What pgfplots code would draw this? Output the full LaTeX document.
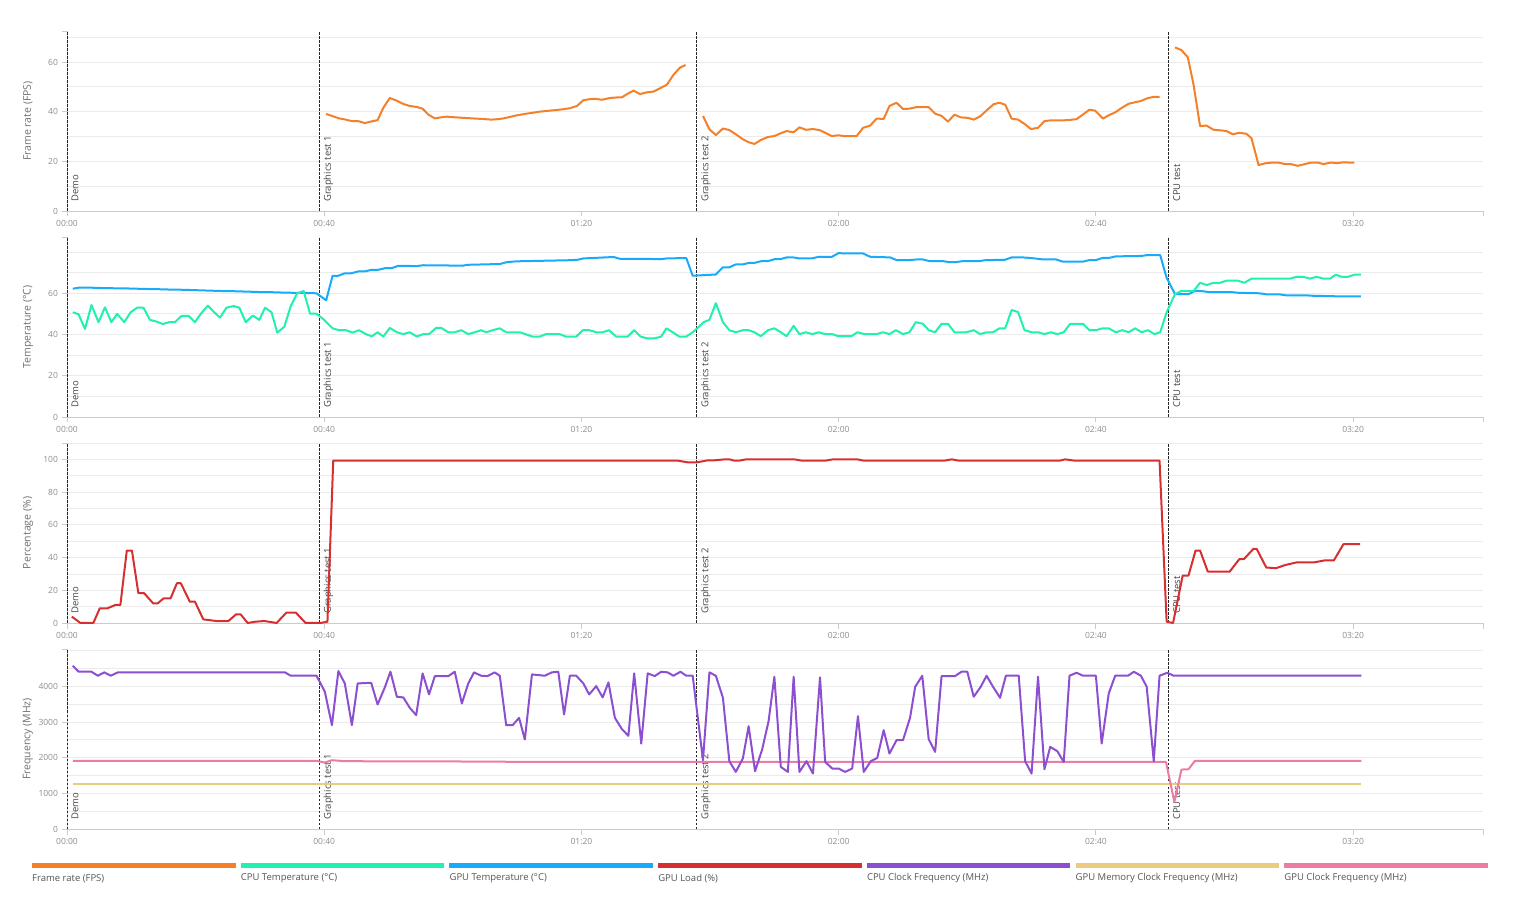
\documentclass[border=0pt]{standalone}
\usepackage{pgfplots}
\pgfplotsset{compat=1.18}
\usepackage{fontspec}
\setmainfont{Open Sans}
\usetikzlibrary{calc}
\definecolor{fpsC}{HTML}{F5802A}
\definecolor{cpuT}{HTML}{20F0B0}
\definecolor{gpuT}{HTML}{19AAFA}
\definecolor{loadC}{HTML}{D62F2F}
\definecolor{cpuClk}{HTML}{8C4FD0}
\definecolor{memClk}{HTML}{EBCB80}
\definecolor{gpuClk}{HTML}{EB7CA3}
\definecolor{axgray}{HTML}{CCCCCC}
\definecolor{gridgray}{HTML}{EBEBEB}
\definecolor{tickgray}{HTML}{8C8C8C}
\definecolor{labgray}{HTML}{707070}
\definecolor{seggray}{HTML}{444444}
\definecolor{leggray}{HTML}{555555}
\pgfplotsset{
  panel/.style={
    scale only axis, width=1416pt, height=180pt, anchor=south west,
    xmin=0, xmax=220.2, ymin=0, clip=false,
    axis x line*=bottom, axis y line*=left,
    axis line style={draw=axgray, line width=0.8pt, -},
    tick align=outside, major tick length=5.5pt, minor tick length=0pt,
    every tick/.style={draw=axgray, line width=0.8pt},
    xtick={0,40,80,120,160,200},
    xticklabels={00:00,00:40,01:20,02:00,02:40,03:20},
    extra x ticks={220.2}, extra x tick labels={},
    extra tick style={grid=none},
    ymajorgrids, yminorgrids,
    major grid style={draw=gridgray, line width=0.8pt},
    minor grid style={draw=gridgray, line width=0.8pt},
    ticklabel style={font=\fontsize{8.5}{9}\selectfont, text=tickgray},
    /pgf/number format/assume math mode=true,
    /pgf/number format/set thousands separator={},
  },
  vline/.style={black!85, line width=0.8pt, dash pattern=on 2.5pt off 1.5pt},
  dline/.style={line width=2pt, line join=round},
}
\tikzset{
  seglab/.style={rotate=90, anchor=north west, inner sep=0pt, font=\fontsize{9.5}{10}\selectfont, text=seggray},
  ylab/.style={rotate=90, anchor=center, inner sep=0pt, font=\fontsize{10.5}{11}\selectfont, text=labgray},
}
\newcommand{\seglines}[1]{%
  \addplot[vline] coordinates {(0,0)(0,#1)};
  \addplot[vline] coordinates {(39.2,0)(39.2,#1)};
  \addplot[vline] coordinates {(97.9,0)(97.9,#1)};
  \addplot[vline] coordinates {(171.3,0)(171.3,#1)};
  \node[seglab] at ($(axis cs:0,0)+(4.5pt,9pt)$) {Demo};
  \node[seglab] at ($(axis cs:39.2,0)+(4.5pt,9pt)$) {Graphics test 1};
  \node[seglab] at ($(axis cs:97.9,0)+(4.5pt,9pt)$) {Graphics test 2};
  \node[seglab] at ($(axis cs:171.3,0)+(4.5pt,9pt)$) {CPU test};
}
\begin{document}
\begin{tikzpicture}
% ---------- Panel 1: frame rate
\begin{axis}[panel, at={(67pt,700pt)}, ymax=72.5,
  ytick={0,20,40,60}, minor ytick={10,30,50,70},
  extra y ticks={72.5}, extra y tick labels={}]
\seglines{72.5}
\addplot[dline, fpsC] coordinates {(40.3,39.1)(41.3,38.2)(42.3,37.3)(43.2,36.9)(44.3,36.2)(45.3,36.2)(46.3,35.4)(47.4,36.1)(48.3,36.6)(49.2,41.6)(50.2,45.5)(51.3,44.4)(52.3,43.1)(53.3,42.3)(54.4,41.9)(55.3,41.2)(56.2,38.8)(57.2,37.3)(58.1,37.7)(59.0,38.0)(60.0,37.8)(61.1,37.6)(62.4,37.4)(63.7,37.2)(65.0,37.0)(66.0,36.8)(67.0,37.0)(67.9,37.3)(68.9,37.9)(69.9,38.5)(71.2,39.1)(72.5,39.6)(73.5,40.0)(74.6,40.3)(75.4,40.5)(76.2,40.7)(77.2,41.0)(78.2,41.4)(79.3,42.3)(80.3,44.6)(81.2,45.0)(82.1,45.2)(83.2,44.8)(84.4,45.5)(85.3,45.7)(86.3,45.8)(87.3,47.4)(88.1,48.5)(89.1,47.1)(90.2,47.8)(91.2,48.1)(92.2,49.4)(93.3,50.9)(94.3,54.8)(95.3,57.7)(96.2,58.8)};
\addplot[dline, fpsC] coordinates {(98.9,38.3)(99.9,32.9)(100.9,30.6)(102.0,33.2)(103.0,32.6)(104.0,30.9)(105.1,28.9)(106.0,27.7)(106.9,27.0)(107.9,28.6)(109.0,29.8)(110.0,30.2)(111.0,31.3)(111.9,32.2)(113.0,31.7)(113.9,33.7)(114.9,32.7)(116.0,33.0)(117.0,32.6)(118.0,31.4)(118.9,30.2)(120.0,30.5)(121.0,30.1)(122.0,30.2)(122.8,30.2)(123.8,33.5)(124.9,34.4)(125.9,37.2)(127.0,37.1)(127.9,42.3)(129.0,43.6)(130.0,41.1)(131.0,41.2)(132.0,41.8)(133.1,41.9)(134.0,41.8)(135.0,39.2)(136.0,38.3)(137.0,36.0)(138.0,38.8)(139.0,37.7)(140.1,37.5)(141.0,36.8)(142.0,38.1)(143.0,40.5)(144.1,43.0)(145.0,43.6)(145.9,42.8)(146.9,37.2)(147.9,36.8)(149.0,34.9)(149.9,33.0)(151.0,33.5)(152.0,36.2)(153.0,36.5)(154.0,36.5)(154.9,36.5)(156.0,36.7)(157.0,37.0)(157.9,38.7)(159.0,40.8)(159.9,40.4)(161.1,37.2)(162.1,38.7)(163.0,39.7)(164.0,41.5)(165.1,43.2)(166.1,43.8)(167.0,44.3)(168.1,45.5)(169.1,46.0)(169.9,46.0)};
\addplot[dline, fpsC] coordinates {(172.3,65.9)(173.3,64.8)(174.3,61.9)(175.2,50.7)(176.2,34.2)(177.2,34.4)(178.3,32.7)(179.3,32.5)(180.3,32.2)(181.3,30.9)(182.3,31.5)(183.4,31.1)(184.2,29.3)(185.3,18.5)(186.3,19.2)(187.4,19.5)(188.4,19.5)(189.4,18.9)(190.3,18.9)(191.4,18.2)(192.5,18.9)(193.5,19.5)(194.5,19.5)(195.4,18.9)(196.5,19.5)(197.5,19.3)(198.5,19.6)(199.5,19.5)(200.2,19.5)};
\node[ylab] at ($(rel axis cs:0,0.5)+(-39pt,0pt)$) {Frame rate (FPS)};
\end{axis}
% ---------- Panel 2: temperature
\begin{axis}[panel, at={(67pt,494pt)}, ymax=87.3,
  ytick={0,20,40,60}, minor ytick={10,30,50,70,80},
  extra y ticks={87.3}, extra y tick labels={}]
\seglines{87.3}
\addplot[dline, gpuT] coordinates {(0.9,62.2)(1.8,62.7)(3.8,62.7)(5.9,62.5)(8,62.4)(10,62.3)(12,62.1)(14,62.0)(16,61.8)(18,61.7)(20,61.5)(22,61.3)(24,61.1)(26,61.0)(28,60.8)(30,60.6)(32,60.5)(34,60.3)(36,60.2)(38.8,60.0)(40.3,56.6)(41.3,68.5)(42.2,68.5)(43.2,69.7)(44.2,69.7)(45.3,70.6)(46.3,70.6)(47.4,71.4)(48.4,71.4)(49.5,72.2)(50.5,72.2)(51.5,73.3)(54.4,73.2)(55.4,73.6)(61.6,73.4)(62.2,73.8)(67.3,74.2)(68.4,75.1)(69.9,75.5)(77.7,76.0)(79.3,76.2)(80.3,76.9)(82.4,77.2)(85.0,77.6)(86.0,76.7)(90.1,76.7)(92.2,76.5)(93.3,76.9)(96.3,77.1)(97.3,68.5)(99.0,68.8)(100.9,69.1)(102.0,72.6)(103.0,72.6)(104.0,74.0)(105.1,74.0)(106.1,74.8)(107.0,74.8)(108.0,75.6)(109.0,75.6)(110.1,76.6)(111.0,76.6)(111.9,77.4)(112.9,77.4)(113.9,76.9)(115.8,76.9)(116.8,77.6)(118.9,77.6)(120.0,79.5)(121.0,79.3)(123.8,79.3)(124.9,77.7)(128.0,77.4)(129.0,76.1)(131.1,76.1)(132.1,76.4)(133.1,76.4)(134.1,75.6)(136.2,75.6)(137.2,75.1)(138.2,75.1)(139.3,75.6)(141.9,75.6)(142.9,76.1)(145.8,76.2)(146.9,77.4)(148.6,77.4)(149.9,77.1)(151.8,76.4)(153.8,76.4)(154.9,75.3)(157.9,75.3)(159.0,76.1)(160.0,76.1)(161.1,77.2)(162.1,77.2)(163.1,77.9)(167.1,78.1)(167.9,78.5)(170.0,78.5)(171.0,67.5)(172.3,59.6)(174.4,59.6)(175.4,61.1)(176.4,61.1)(177.5,60.6)(181.3,60.5)(182.3,60.2)(185.4,60.0)(186.5,59.5)(188.5,59.5)(189.6,59.0)(192.7,59.0)(193.7,58.8)(197.9,58.5)(201.2,58.5)};
\addplot[dline, cpuT] coordinates {(0.9,50.8)(1.8,49.8)(2.8,42.7)(3.8,54.3)(4.9,46.0)(5.9,53.2)(6.9,46.0)(7.8,50.0)(8.9,46.0)(9.9,50.8)(10.9,53.0)(11.9,53.0)(12.9,47.1)(13.9,46.3)(14.9,45.1)(15.9,46.0)(16.8,46.0)(17.8,49.0)(18.9,49.0)(19.9,46.0)(20.8,50.0)(21.9,54.0)(22.9,50.8)(23.8,48.2)(24.8,53.0)(25.9,53.8)(26.8,53.0)(27.8,46.0)(28.9,49.2)(29.9,47.1)(30.8,53.0)(31.8,50.8)(32.7,40.9)(33.8,43.8)(34.8,53.8)(35.8,60.0)(36.8,61.1)(37.8,50.1)(38.8,50.1)(40.0,47.1)(41.3,43.0)(42.3,42.1)(43.4,42.1)(44.4,40.9)(45.4,42.1)(46.5,40.2)(47.4,39.1)(48.3,41.1)(49.2,39.0)(50.2,43.2)(51.3,41.1)(52.3,40.2)(53.3,41.1)(54.4,39.0)(55.4,40.2)(56.3,40.2)(57.4,43.2)(58.2,43.2)(59.3,41.1)(60.3,41.1)(61.3,42.1)(62.4,40.2)(63.4,41.1)(64.4,42.1)(65.2,41.1)(66.2,42.1)(67.3,43.0)(68.3,41.1)(70.4,41.1)(72.4,39.0)(73.5,39.0)(74.5,40.2)(76.6,40.2)(77.6,39.0)(79.2,39.0)(80.2,42.1)(81.2,42.1)(82.3,41.1)(83.3,41.1)(84.3,42.1)(85.4,39.0)(87.2,39.0)(88.2,42.1)(89.2,39.0)(90.3,38.1)(91.3,38.1)(92.4,39.0)(93.2,43.0)(94.2,41.1)(95.2,39.0)(96.3,39.0)(97.3,41.1)(98.0,43.0)(99.0,46.0)(99.9,47.1)(100.9,55.2)(102.0,46.0)(103.0,42.1)(104.0,41.1)(105.1,42.1)(106.0,42.1)(106.9,41.1)(107.9,39.2)(109.0,42.1)(110.0,43.0)(111.0,41.1)(111.9,39.2)(113.0,44.2)(113.9,40.2)(114.9,41.1)(115.9,40.2)(116.9,41.1)(117.9,40.2)(119.0,40.2)(119.9,39.2)(122.0,39.2)(122.9,41.1)(124.0,40.2)(125.9,40.2)(126.9,41.1)(127.9,40.2)(128.9,42.1)(130.0,40.2)(131.0,41.1)(132.0,46.0)(133.1,45.2)(134.0,42.1)(135.0,41.1)(136.0,45.2)(137.0,45.2)(138.0,41.1)(139.9,41.1)(141.0,42.1)(142.0,40.2)(143.0,41.1)(144.0,41.1)(145.0,43.0)(145.9,43.0)(146.9,51.9)(147.9,50.9)(148.9,42.1)(150.0,41.1)(151.0,41.1)(152.0,40.2)(153.0,41.1)(154.0,40.2)(155.0,41.1)(156.0,45.2)(158.0,45.2)(159.0,42.1)(160.0,42.1)(161.0,43.0)(162.0,43.0)(163.1,41.1)(164.1,42.1)(165.1,41.1)(166.1,43.0)(167.1,41.1)(168.1,42.1)(169.1,40.2)(170.0,41.1)(171.0,50.8)(172.3,59.6)(173.3,61.1)(175.2,61.1)(176.2,65.1)(177.2,64.0)(178.3,65.1)(179.3,65.1)(180.3,66.1)(182.1,66.1)(183.1,65.1)(184.2,67.1)(190.2,67.1)(191.2,68.0)(192.2,68.0)(193.3,67.1)(194.3,68.0)(195.4,67.1)(196.4,67.1)(197.3,69.0)(198.2,68.0)(199.2,68.0)(200.2,69.0)(201.2,69.0)};
\node[ylab] at ($(rel axis cs:0,0.5)+(-39pt,0pt)$) {Temperature (°C)};
\end{axis}
% ---------- Panel 3: GPU load
\begin{axis}[panel, at={(67pt,288pt)}, ymax=110,
  ytick={0,20,40,60,80,100}, minor ytick={10,30,50,70,90,110},
  extra y ticks={110}, extra y tick labels={}]
\seglines{110}
\addplot[dline, loadC] coordinates {(0.75,3.9)(2.1,0)(4.1,0)(5.1,9)(6.3,9)(7.5,11)(8.3,11)(9.3,44.3)(10.1,44.3)(11.1,18.2)(12.0,18.2)(13.4,12)(14.1,12)(15.0,15)(16.1,15)(17.1,24.3)(17.7,24.3)(19.1,13)(19.9,13)(21.2,2.2)(22.1,1.8)(23.2,1.2)(25.1,1.2)(26.3,5.3)(27.0,5.3)(28.1,0)(29.3,0.8)(30.7,1.2)(32.6,0)(34.1,6.3)(35.6,6.3)(37.1,0)(39.4,0)(40.5,0.8)(41.4,99.2)(95.0,99.2)(96.5,98.2)(98.0,98.2)(99.6,99.4)(100.6,99.4)(102.3,100)(103.0,100)(103.8,99.2)(104.5,99.2)(105.6,100)(113.1,100)(114.3,99.2)(117.9,99.2)(119.1,100)(122.9,100)(123.9,99.2)(136.4,99.2)(137.6,100)(138.7,99.2)(154.4,99.2)(155.2,100)(156.7,99.2)(169.9,99.2)(171.0,0.8)(172.0,0)(173.5,29)(174.4,29)(175.5,44.3)(176.2,44.3)(177.4,31.4)(180.8,31.4)(182.3,39)(183.0,39)(184.5,45.3)(185.0,45.3)(186.5,33.9)(188.0,33.5)(189.5,35.5)(191.3,37.1)(194.0,37.1)(195.5,38.2)(197.0,38.2)(198.5,48.2)(201.1,48.2)};
\node[ylab] at ($(rel axis cs:0,0.5)+(-39pt,0pt)$) {Percentage (\%)};
\end{axis}
% ---------- Panel 4: frequency
\begin{axis}[panel, at={(67pt,82pt)}, ymax=5050,
  ytick={0,1000,2000,3000,4000}, minor ytick={500,1500,2500,3500,4500,5000},
  extra y ticks={5050}, extra y tick labels={}]
\seglines{5050}
\addplot[dline, memClk] coordinates {(0.9,1250)(201.3,1250)};
\addplot[dline, gpuClk] coordinates {(0.9,1911)(38.8,1911)(40.1,1864)(41.2,1930)(43.2,1902)(60,1895)(70,1885)(170.9,1883)(172.2,759)(173.3,1667)(174.4,1677)(175.4,1911)(201.3,1911)};
\addplot[dline, cpuClk] coordinates {(0.9,4581)(1.8,4412)(3.8,4412)(4.8,4300)(5.8,4394)(6.8,4300)(7.9,4394)(33.9,4394)(34.8,4300)(38.8,4300)(40.1,3850)(41.2,2913)(42.2,4431)(43.2,4084)(44.3,2913)(45.2,4084)(47.3,4103)(48.3,3494)(49.4,3963)(50.3,4412)(51.3,3710)(52.3,3691)(53.3,3401)(54.3,3194)(55.3,4366)(56.3,3775)(57.2,4290)(59.3,4290)(60.3,4412)(61.4,3522)(62.4,4084)(63.3,4394)(64.4,4300)(65.4,4290)(66.5,4394)(67.3,4300)(68.3,2913)(69.3,2913)(70.3,3119)(71.2,2511)(72.3,4337)(74.3,4300)(75.4,4394)(76.4,4412)(77.3,3213)(78.2,4300)(79.2,4300)(80.3,4084)(81.2,3775)(82.3,4009)(83.3,3691)(84.2,4113)(85.2,3119)(86.3,2801)(87.3,2614)(88.2,4366)(89.3,2398)(90.3,4366)(91.4,4290)(92.4,4412)(93.4,4394)(94.3,4300)(95.4,4412)(96.3,4300)(97.3,4300)(98.9,1930)(99.9,4394)(100.9,4300)(102.0,3682)(103.0,1902)(104.0,1602)(105.1,1977)(106.0,2885)(107.0,1621)(108.1,2230)(109.1,3026)(110.0,4272)(111.0,1742)(112.1,1602)(113.0,4272)(113.9,1602)(115.0,1902)(116.0,1555)(117.1,4253)(117.9,1883)(119.0,1696)(120.0,1696)(121.0,1602)(122.1,1696)(123.0,3166)(123.9,1602)(125.0,1902)(126.0,1995)(127.0,2773)(127.9,2117)(129.0,2492)(130.0,2492)(131.1,3119)(131.9,3991)(133.0,4300)(134.0,2520)(135.0,2164)(136.0,4290)(138.1,4290)(139.1,4412)(140.0,4412)(141.0,3710)(142.1,3991)(143.0,4300)(144.0,3991)(145.1,3682)(146.0,4300)(148.0,4300)(149.0,1902)(150.0,1555)(151.0,4272)(152.0,1677)(152.9,2305)(154.0,2183)(155.0,1883)(155.9,4300)(157.0,4384)(158.0,4300)(160.0,4300)(160.9,2398)(162.0,3803)(163.0,4300)(165.0,4300)(165.9,4412)(167.0,4300)(167.9,3991)(169.0,1902)(169.9,4300)(171.1,4384)(172.1,4300)(201.3,4300)};
\node[ylab] at ($(rel axis cs:0,0.5)+(-39pt,0pt)$) {Frequency (MHz)};
\end{axis}
% ---------- Legend
\foreach \c/\t [count=\i from 0] in {fpsC/Frame rate (FPS), cpuT/CPU Temperature (°C), gpuT/GPU Temperature (°C), loadC/GPU Load (\%), cpuClk/CPU Clock Frequency (MHz), memClk/GPU Memory Clock Frequency (MHz), gpuClk/GPU Clock Frequency (MHz)} {
  \draw[\c, line width=4.5pt] ({(32+208.7*\i)*1pt},45.5pt) -- ({(235.5+208.7*\i)*1pt},45.5pt);
  \node[anchor=west, inner sep=0pt, font=\fontsize{9.5}{10}\selectfont, text=leggray] at ({(32+208.7*\i)*1pt},32.5pt) {\t};
}
\pgfresetboundingbox
\path (0pt,0pt) rectangle (1518pt,911pt);
\end{tikzpicture}
\end{document}
